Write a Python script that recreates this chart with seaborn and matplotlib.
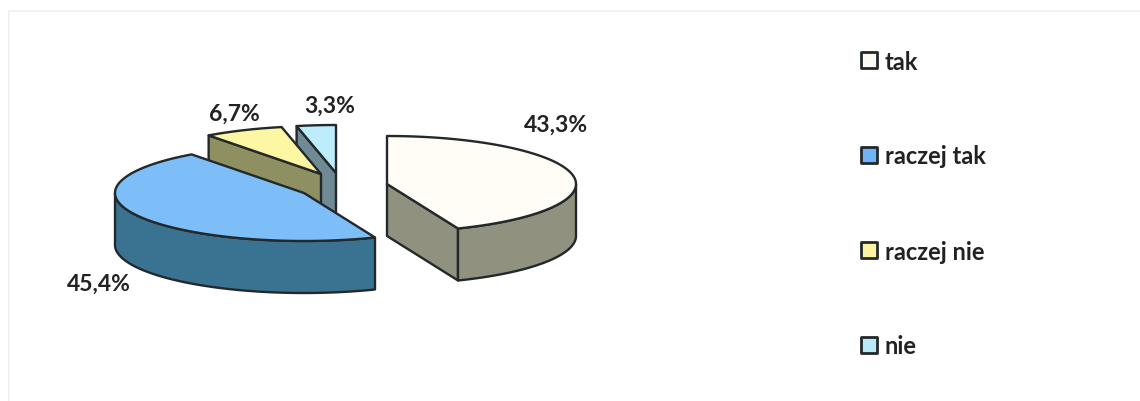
import numpy as np
import pandas as pd
import matplotlib
matplotlib.use('Agg')
import matplotlib.pyplot as plt
import seaborn as sns
from matplotlib.patches import Polygon

# ── Data ─────────────────────────────────────────────────────
categories = ['tak', 'raczej tak', 'raczej nie', 'nie']
values = [43.3, 45.4, 6.7, 3.3]

top_colors = ['#FFFDF6', '#7DBDF8', '#FDF6A2', '#BDECFA']
wall_colors = ['#90917E', '#3A7391', '#8F9062', '#6F8A93']
legend_colors = ['#FBFBF4', '#6FB5F6', '#FBF3A0', '#B8EAF8']
EDGE = '#23282A'

# Pie projection, in pixels
RX, RY, DEPTH = 189, 48, 52

# Exploded slice centres
apexes = {'tak': (387, 184), 'raczej tak': (304, 193),
          'raczej nie': (321, 174), 'nie': (336, 173)}

# Percent label centres
label_xy = {'tak': (556, 125), 'raczej tak': (99, 284),
            'raczej nie': (234, 114), 'nie': (330, 106)}

# ── Figure ───────────────────────────────────────────────────
sns.set_theme(style='white')
plt.rcParams['font.family'] = ['Lato', 'DejaVu Sans']

fig = plt.figure(figsize=(11.4, 4.01), dpi=100)
ax = fig.add_axes([0, 0, 1, 1])
ax.set_xlim(0, 1140)
ax.set_ylim(401, 0)
ax.axis('off')

# faint frame of the scanned chart area
ax.plot([8.5, 8.5, 1140], [401, 10.5, 10.5], color='#EFEFEF', lw=1.2)


def rim_point(apex, deg):
    t = np.radians(deg)
    return np.column_stack([apex[0] + RX * np.cos(t), apex[1] - RY * np.sin(t)])


def add_poly(pts, color):
    ax.add_patch(Polygon(pts, closed=True, facecolor=color, edgecolor=EDGE,
                         lw=1.7, joinstyle='round'))


def cut_face(apex, deg, color):
    a = np.array(apex, float)
    p = rim_point(apex, deg)[0]
    drop = np.array([0, DEPTH])
    add_poly(np.array([a, p, p + drop, a + drop]), color)


# Angles run clockwise from 12 o'clock, shares of the drawn total
total = sum(values)
sweeps = [v / total * 360 for v in values]
starts = 90 - np.concatenate([[0], np.cumsum(sweeps)[:-1]])

# back slices first so the front ones cover them
for i in [3, 2, 1, 0]:
    name = categories[i]
    apex = apexes[name]
    t1, t2 = starts[i], starts[i] - sweeps[i]
    angles = np.linspace(t1, t2, 200)
    rim = rim_point(apex, angles)

    if np.cos(np.radians(t1)) < -1e-6:
        cut_face(apex, t1, wall_colors[i])
    if np.cos(np.radians(t2)) > 1e-6:
        cut_face(apex, t2, wall_colors[i])

    front = rim[np.sin(np.radians(angles)) < 0]
    if len(front):
        add_poly(np.vstack([front, (front + [0, DEPTH])[::-1]]), wall_colors[i])

    add_poly(np.vstack([[apex], rim]), top_colors[i])

for name, value in zip(categories, values):
    x, y = label_xy[name]
    ax.text(x, y, f'{value:.1f}%'.replace('.', ','), ha='center', va='center',
            fontsize=16.5, fontweight='bold', color='#222222')

# ── Legend ───────────────────────────────────────────────────
legend_df = pd.DataFrame({'category': categories,
                          'x': [869] * 4,
                          'y': [60, 155, 250, 345]})
sns.scatterplot(data=legend_df, x='x', y='y', hue='category',
                palette=dict(zip(categories, legend_colors)),
                marker='s', s=125, edgecolor=EDGE, linewidth=2,
                legend=False, ax=ax)
ax.set_xlim(0, 1140)
ax.set_ylim(401, 0)
for name, y in zip(legend_df['category'], legend_df['y']):
    ax.text(885, y + 2, name, ha='left', va='center', fontsize=17,
            fontweight='bold', color='#222222')

fig.savefig('out.png', dpi=100, facecolor='white')
